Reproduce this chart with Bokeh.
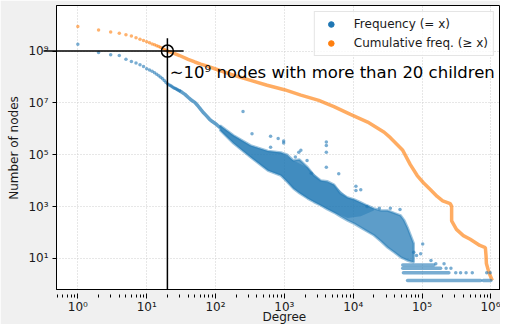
import math
from bokeh.plotting import figure
from bokeh.models import (Range1d, FixedTicker, CustomJSTickFormatter, Legend,
                          LegendItem, Arrow)
from bokeh.core.properties import value
from bokeh.embed import file_html
from bokeh.resources import INLINE

BLUE = "#1f77b4"
ORANGE = "#ff7f0e"

# ---- Frequency (= x): individual low-degree points ----
freq_deg = list(range(1, 31))
freq_cnt = [1.82e9, 8.91e8, 7.24e8, 6.76e8, 4.90e8, 3.98e8, 3.47e8, 2.95e8, 2.57e8, 2.09e8,
            1.86e8, 1.66e8, 1.45e8, 1.29e8, 1.12e8, 9.77e7, 8.51e7, 7.41e7, 6.31e7, 5.50e7,
            5.01e7, 4.68e7, 4.37e7, 4.07e7, 3.80e7, 3.63e7, 3.47e7, 3.24e7, 3.09e7, 2.95e7]

# merged (continuous) part of the frequency curve
freq_line_deg = [30, 33, 36, 40, 45, 50, 55, 61, 67, 74, 82, 90, 100, 117]
freq_line_cnt = [2.95e7, 2.51e7, 2.14e7, 1.66e7, 1.26e7, 1.05e7, 7.94e6, 5.62e6, 4.17e6,
                 3.16e6, 2.34e6, 1.91e6, 1.58e6, 1.10e6]

# dense cloud of the frequency series: upper / lower envelope
band_deg = [117, 182, 324, 575, 891, 1100, 1349, 1660, 2188, 2690, 3388, 4170, 5248,
            6500, 8318, 10300, 12880, 16000, 19950, 25500, 31620, 39800, 48980, 55000,
            61660, 68000, 75860]
band_hi = [1.35e6, 5.62e5, 2.29e5, 1.41e5, 1.23e5, 1.0e5, 6.03e4, 6.5e4, 3.24e4, 1.6e4,
           1.02e4, 9.5e3, 7.08e3, 3.3e3, 2.24e3, 1.9e3, 1.45e3, 1.1e3, 851, 708, 708,
           560, 457, 300, 155, 80, 38]
band_lo = [8.71e5, 2.75e5, 7.94e4, 2.45e4, 1.58e4, 9.0e3, 5.01e3, 3.3e3, 2.04e3, 1.5e3,
           1.10e3, 800, 589, 420, 288, 220, 155, 110, 78, 45, 26.3, 17, 11.0, 9.5,
           8.3, 7.6, 7.1]

# darker (densest) core of the cloud
core_deg = [117, 182, 324, 575, 891, 1349, 2188, 3388, 5248, 8318, 12880, 19950]
core_hi = [1.35e6, 5.62e5, 2.29e5, 1.41e5, 1.23e5, 6.03e4, 3.24e4, 1.02e4, 7.08e3, 2.24e3,
           1.45e3, 851]
core_lo = [8.71e5, 2.75e5, 7.94e4, 2.45e4, 1.58e4, 5.01e3, 2.04e3, 1.10e3, 589, 360,
           420, 700]

# scattered outliers of the frequency series
out_deg = [251, 339, 631, 631, 813, 977, 977, 1445, 1622, 1738, 2138, 2455, 4074, 4074,
           4074, 4074, 6166, 10960, 10960, 12880, 15850, 23990, 34670, 47860, 75860, 83180,
           95500, 102300, 134900, 158500, 208900,
           309000, 363100, 436500, 537000, 871000, 977200, 223900, 263000]
out_cnt = [4.68e6, 6.46e5, 5.13e5, 1.95e5, 4.27e5, 3.39e5, 2.82e5, 8.13e4, 1.26e5, 1.48e5,
           6.03e4, 1.95e4, 3.09e5, 2.29e5, 1.26e5, 3.31e4, 1.86e4, 6026, 4169, 4467, 1000,
           871, 871, 776, 17.4, 12.9, 15.1, 36.3, 8.32, 6.17, 6.17,
           2.8, 2.8, 2.8, 2.8, 2.8, 2.8, 4.2, 4.2]

# rows of consecutive degrees with the smallest counts
row_cnt = [1.4, 1.4, 2.8, 4.2, 5.6]
row_start = [61660, 776200, 53700, 52480, 52480]
row_end = [707900, 1000000, 245500, 186200, 147900]

# ---- Cumulative freq. (>= x) ----
cum_deg = list(range(1, 21))
cum_cnt = [8.91e9, 6.46e9, 5.50e9, 4.90e9, 4.27e9, 3.80e9, 3.31e9, 2.88e9, 2.57e9, 2.29e9,
           2.09e9, 1.86e9, 1.74e9, 1.62e9, 1.51e9, 1.38e9, 1.26e9, 1.17e9, 1.07e9, 1.00e9]
cum_line_deg = [20, 25, 30, 40, 50, 61, 74, 100, 186, 324, 562, 1000, 1738, 3162, 5248,
                9120, 16220, 28180, 34670, 52480, 67610, 85110, 104700, 131800, 166000,
                199500, 257000, 269200, 269200, 316200, 398100, 501200, 691800, 831800,
                851100, 861000, 933300, 1047000]
cum_line_cnt = [1.00e9, 8.13e8, 6.76e8, 4.79e8, 3.80e8, 3.16e8, 2.69e8, 2.04e8, 1.15e8,
                7.41e7, 4.79e7, 3.24e7, 2.00e7, 1.26e7, 7.24e6, 3.63e6, 1.82e6, 7.41e5,
                4.57e5, 1.48e5, 4.17e4, 1.58e4, 8318, 4571, 2455, 1660, 1288, 1047, 282,
                132, 75.9, 55.0, 31.6, 26.3, 12.6, 6.31, 2.95, 1.4]

# annotation
mark_deg, mark_cnt = 20, 1e9
hline_x = [0.317, 34.4]
vline_y = [3.1e9, 0.058]
note_text = "\u223c10\u2079 nodes with more than 20 children"
note_x, note_y = 21.6, 1.55e8

# axis titles
x_title, y_title = "Degree", "Number of nodes"

x_ticks = [1, 10, 100, 1e3, 1e4, 1e5, 1e6]
x_minor = [m * 10.0 ** k for k in range(-1, 7) for m in range(2, 10)]
y_ticks = [10, 1e3, 1e5, 1e7, 1e9]

FONT = "DejaVu Sans"
TXT = "#1a1a1a"

p = figure(width=500, height=324, x_axis_type="log", y_axis_type="log",
           x_range=Range1d(10 ** -0.31, 10 ** 6.14),
           y_range=Range1d(10 ** -0.2, 10 ** 10.76),
           output_backend="svg", toolbar_location=None,
           min_border_left=56, min_border_right=0, min_border_top=5,
           min_border_bottom=35)
p.border_fill_color = "#f0f0f0"
p.background_fill_color = "white"
p.outline_line_color = "black"
p.outline_line_width = 1

fmt = CustomJSTickFormatter(code="""
const sup = {"-":"\\u207b","0":"\\u2070","1":"\\u00b9","2":"\\u00b2","3":"\\u00b3",
  "4":"\\u2074","5":"\\u2075","6":"\\u2076","7":"\\u2077","8":"\\u2078","9":"\\u2079"};
const e = Math.round(Math.log10(tick));
return "10" + String(e).split("").map(c => sup[c]).join("");
""")

p.xaxis.ticker = FixedTicker(ticks=x_ticks, minor_ticks=x_minor)
p.yaxis.ticker = FixedTicker(ticks=y_ticks, minor_ticks=[])
for ax in (p.xaxis[0], p.yaxis[0]):
    ax.formatter = fmt
    ax.major_label_text_font = FONT
    ax.major_label_text_font_size = "12px"
    ax.major_label_text_color = TXT
    ax.axis_line_color = "black"
    ax.major_tick_line_color = "black"
    ax.minor_tick_line_color = "black"
p.xaxis.major_tick_in = -4
p.xaxis.major_tick_out = 9
p.xaxis.minor_tick_in = -5
p.xaxis.minor_tick_out = 8
p.xaxis.major_label_standoff = 1
p.yaxis.major_tick_in = 0
p.yaxis.major_tick_out = 4
p.yaxis.major_label_standoff = 4

for g in (p.xgrid[0], p.ygrid[0]):
    g.grid_line_color = "#cfcfcf"
    g.grid_line_dash = "1 2"
    g.grid_line_width = 1

# axis titles: unclipped text glyphs just outside the frame
p.text([1000], [0.0307], text=[x_title], text_font=value(FONT), text_font_size="12px",
       text_color=TXT, text_align="center", text_baseline="bottom", level="overlay")
p.text([0.12], [1.82e5], text=[y_title], text_font=value(FONT), text_font_size="12px",
       text_color=TXT, text_align="center", text_baseline="middle", angle=math.pi / 2,
       level="overlay")

# cumulative series
p.line(cum_line_deg, cum_line_cnt, line_color=ORANGE, line_alpha=0.65, line_width=3.5)
p.scatter(cum_deg, cum_cnt, size=3.5, fill_color=ORANGE, fill_alpha=0.6, line_color=None)

# frequency series
p.patch(band_deg + band_deg[::-1], band_hi + band_lo[::-1], fill_color=BLUE,
        fill_alpha=0.72, line_color=BLUE, line_alpha=0.45, line_width=2.5)
p.patch(core_deg + core_deg[::-1], core_hi + core_lo[::-1], fill_color=BLUE,
        fill_alpha=0.45, line_color=None)
p.line(freq_line_deg, freq_line_cnt, line_color=BLUE, line_alpha=0.7, line_width=3.5)
p.scatter(freq_deg, freq_cnt, size=3.5, fill_color=BLUE, fill_alpha=0.6, line_color=None)
p.scatter(out_deg, out_cnt, size=3.5, fill_color=BLUE, fill_alpha=0.6, line_color=None)
p.segment(x0=row_start, y0=row_cnt, x1=row_end, y1=row_cnt, line_color=BLUE,
          line_alpha=0.6, line_width=3.5, line_cap="round")

# annotation
p.line(hline_x, [mark_cnt, mark_cnt], line_color="black", line_width=1.5, level="overlay")
p.add_layout(Arrow(end=None, x_start=mark_deg, y_start=vline_y[0], x_end=mark_deg,
                   y_end=vline_y[1], line_color="black", line_width=1.5))
p.scatter([mark_deg], [mark_cnt], size=12, fill_color=None, line_color="black",
          line_width=1.5)
p.text([note_x], [note_y], text=[note_text], text_font=value(FONT),
       text_font_size="16.5px", text_color="black", text_baseline="alphabetic")

# legend (one off-frame point each, so that the legend markers are drawn)
lg1 = p.scatter(x=[1e-9], y=[1e-9], size=7, fill_color=BLUE, line_color=BLUE)
lg2 = p.scatter(x=[1e-9], y=[1e-9], size=7, fill_color=ORANGE, line_color=ORANGE)
legend = Legend(items=[LegendItem(label="Frequency (= x)", renderers=[lg1]),
                       LegendItem(label="Cumulative freq. (\u2265 x)", renderers=[lg2])],
                location="top_right", margin=6, padding=5, glyph_width=22,
                glyph_height=14, spacing=5, label_standoff=12,
                label_text_font=FONT, label_text_font_size="12px",
                label_text_color=TXT, border_line_color="#cccccc",
                background_fill_color="white", background_fill_alpha=0.8)
p.add_layout(legend)

open("out.html", "w", encoding="utf-8").write(file_html(p, INLINE))
